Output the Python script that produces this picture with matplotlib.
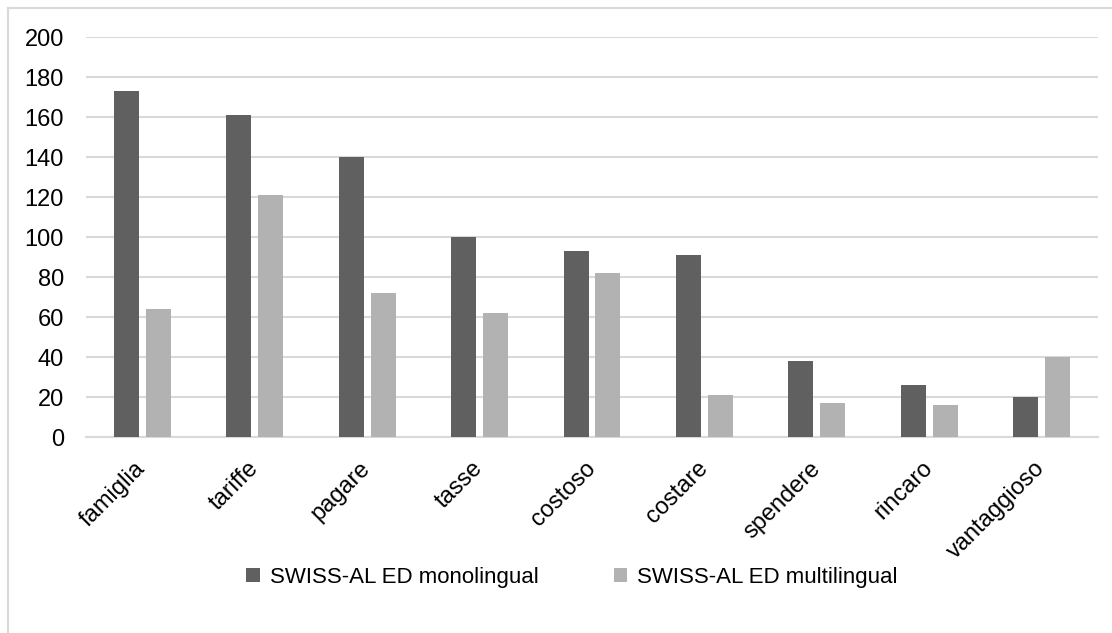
import numpy as np
import matplotlib
matplotlib.use("Agg")
import matplotlib.pyplot as plt
from matplotlib.lines import Line2D

plt.rcParams['font.family'] = ['Liberation Sans', 'DejaVu Sans']

# word frequencies in the two corpora
words = ['famiglia', 'tariffe', 'pagare', 'tasse', 'costoso', 'costare',
         'spendere', 'rincaro', 'vantaggioso']
monolingual = [173, 161, 140, 100, 93, 91, 38, 26, 20]
multilingual = [64, 121, 72, 62, 82, 21, 17, 16, 40]
series_names = ['SWISS-AL ED monolingual', 'SWISS-AL ED multilingual']

W, H = 1112, 633
fig = plt.figure(figsize=(W / 100, H / 100), dpi=100)
ax = fig.add_axes([86 / W, 1 - 437.3 / H, (1098 - 86) / W, 400 / H])

x = np.arange(len(words))
bw = 0.222
off = 0.142
ax.bar(x - off, monolingual, bw, color='#606060', label=series_names[0], zorder=3)
ax.bar(x + off, multilingual, bw, color='#b2b2b2', label=series_names[1], zorder=3)

ax.set_xlim(-0.5, len(words) - 0.5)
ax.set_ylim(0, 200)
ax.set_yticks(np.arange(0, 201, 20))
ax.yaxis.grid(True, color='#d9d9d9', linewidth=1.5, zorder=0)
ax.set_axisbelow(True)
for s in ['top', 'right', 'left']:
    ax.spines[s].set_visible(False)
ax.spines['bottom'].set_color('#d9d9d9')
ax.spines['bottom'].set_linewidth(1.5)
ax.tick_params(axis='both', length=0, labelsize=17, colors='black')
ax.tick_params(axis='y', pad=16)

ax.set_xticks(x)
ax.set_xticklabels(words, rotation=45, ha='right', va='center', rotation_mode='anchor')
ax.tick_params(axis='x', pad=20)

leg = fig.legend(loc='center', bbox_to_anchor=(572 / W, 1 - 577 / H), ncol=2,
                 frameon=False, fontsize=16, handlelength=0.6, handleheight=0.6,
                 columnspacing=3.4, handletextpad=0.45)

# chart area border (left and top edges)
fig.add_artist(Line2D([8 / W, 8 / W], [0, 1 - 8 / H], color='#d9d9d9', linewidth=1.5))
fig.add_artist(Line2D([8 / W, 1], [1 - 8 / H, 1 - 8 / H], color='#d9d9d9', linewidth=1.5))

fig.savefig('out.png', dpi=100, facecolor='white')
